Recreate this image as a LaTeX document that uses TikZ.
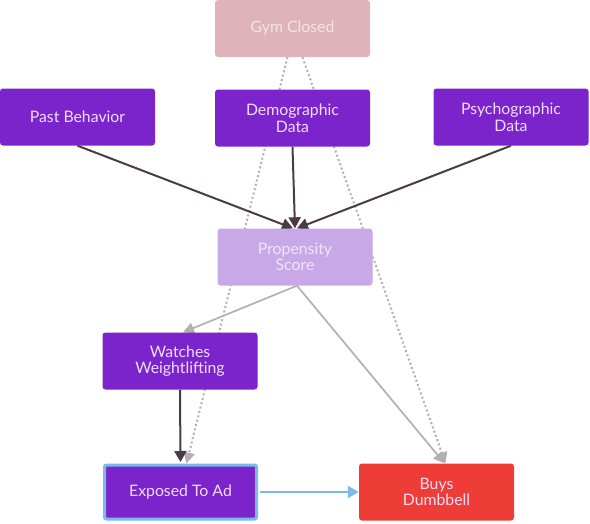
\documentclass[tikz,border=0pt]{standalone}
\usepackage{fontspec}
\setmainfont{Lato}
\usepackage{xcolor}
\usetikzlibrary{arrows.meta,backgrounds}

\definecolor{nodepurple}{HTML}{7B24CC}
\definecolor{nodetext}{HTML}{F0DEF8}
\definecolor{gympink}{HTML}{DEB3BA}
\definecolor{gymtext}{HTML}{F4E4E7}
\definecolor{proplilac}{HTML}{C9A8E8}
\definecolor{proptext}{HTML}{F1E3FA}
\definecolor{buysred}{HTML}{EE3D36}
\definecolor{adblue}{HTML}{7BB9EC}
\definecolor{darkedge}{HTML}{4B3B46}
\definecolor{grayedge}{HTML}{B4B0B2}

\begin{document}
\begin{tikzpicture}[x=1pt,y=1pt]
			\tikzstyle{every node}+=[inner sep=0pt, align=center, font=\fontsize{15.8}{16.5}\selectfont]
			\tikzstyle{box}=[rectangle, rounded corners=3pt, minimum width=155pt, minimum height=57pt, fill=nodepurple, text=nodetext]
			\tikzstyle{darkarrow}=[darkedge, line width=2pt, -{Triangle[length=11pt,width=12pt]}]
			\tikzstyle{grayarrow}=[grayedge, line width=1.7pt, -{Triangle[length=11pt,width=11pt]}]
			\tikzstyle{dotarrow}=[grayedge, line width=2pt, dash pattern=on 2pt off 2.5pt, -{Triangle[length=11pt,width=11pt]}]
			\useasboundingbox (0,0) rectangle (590,-523);
			\node [box, fill=gympink, text=gymtext] (gym) at (292.5,-28.5) {Gym Closed};
			\node [box] (past) at (77.5,-117) {Past Behavior};
			\node [box] (demo) at (292.5,-118) {Demographic\\Data};
			\node [box] (psycho) at (511,-117) {Psychographic\\Data};
			\node [box, fill=proplilac, text=proptext] (prop) at (295,-257) {Propensity\\Score};
			\node [box] (watch) at (180,-361) {Watches\\Weightlifting};
			\node [box, draw=adblue, line width=3pt, minimum width=152pt, minimum height=54pt, rounded corners=2pt] (expo) at (180.5,-492) {Exposed To Ad};
			\node [box, fill=buysred] (buys) at (436.5,-492) {Buys\\Dumbbell};
			\begin{pgfonlayer}{background}
			\draw [dotarrow] ([xshift=-5pt]gym.south) -- ([xshift=6pt]expo.north);
			\draw [dotarrow] ([xshift=10pt]gym.south) -- ([xshift=9pt]buys.north);
			\draw [darkarrow] (past.south) -- ([xshift=-2pt]prop.north);
			\draw [darkarrow] (demo.south) -- (prop.north);
			\draw [darkarrow] (psycho.south) -- ([xshift=2pt]prop.north);
			\draw [grayarrow] ([xshift=2pt]prop.south) -- ([xshift=3pt]watch.north);
			\draw [grayarrow] ([xshift=2pt]prop.south) -- ([xshift=8pt]buys.north);
			\draw [darkarrow] (watch.south) -- ([yshift=1.5pt]expo.north);
			\draw [adblue, line width=2pt, -{Triangle[length=11pt,width=12pt]}] ([xshift=1.5pt]expo.east) -- (buys.west);
			\end{pgfonlayer}
		\end{tikzpicture}
\end{document}
